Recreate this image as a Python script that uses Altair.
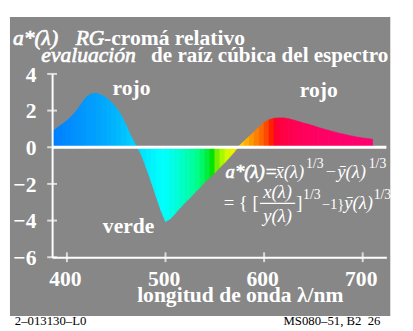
import altair as alt
import pandas as pd

# ---- data ----
wavelengths = [385, 390, 395, 400, 405, 410, 415, 420, 425, 430, 435, 440, 445, 450,
               455, 460, 465, 470, 475, 480, 485, 490, 495, 500, 505, 510, 515, 520,
               525, 530, 535, 540, 545, 550, 555, 560, 565, 570, 575, 580, 585, 590,
               595, 600, 605, 610, 615, 620, 625, 630, 635, 640, 645, 650, 655, 660,
               665, 670, 675, 680, 685, 690, 695, 700, 705, 710]
a_star = [0.85, 1.05, 1.25, 1.45, 1.7, 2.0, 2.4, 2.75, 2.92, 2.95, 2.85, 2.7, 2.45, 2.15,
          1.75, 1.2, 0.6, 0.1, -0.35, -1.05, -1.8, -2.6, -3.4, -4.05, -3.9, -3.6, -3.3, -3.0,
          -2.75, -2.45, -2.2, -1.9, -1.65, -1.4, -1.1, -0.85, -0.55, -0.25, 0.1, 0.35, 0.6, 0.85,
          1.1, 1.35, 1.5, 1.58, 1.6, 1.6, 1.55, 1.48, 1.4, 1.32, 1.25, 1.17, 1.08, 1.0,
          0.93, 0.85, 0.78, 0.72, 0.66, 0.6, 0.55, 0.51, 0.47, 0.44]
strip_colors = ["#0080ff", "#0084ff", "#0088ff", "#008cff", "#0090ff", "#0094ff", "#0098ff",
                "#009cff", "#00a0ff", "#00a4ff", "#00a8ff", "#00aeff", "#00b4ff", "#00baff",
                "#00c2ff", "#00caff", "#00d2ff", "#00dcff", "#00e6ff", "#00eeff", "#00f6ff",
                "#00fcff", "#00ffff", "#00fff4", "#00ffe6", "#00ffd6", "#00ffc6", "#00ffb4",
                "#00ffa0", "#00ff88", "#00f868", "#00ee40", "#00e400", "#70f000", "#a8f800",
                "#d0fc00", "#f0f000", "#ffe000", "#ffc800", "#ffb000", "#ff9800", "#ff8000",
                "#ff6800", "#ff4800", "#ff2000", "#ff0030", "#ff0040", "#ff0048", "#ff004e",
                "#ff0054", "#ff0058", "#ff005c", "#ff0060", "#ff0062", "#ff0064", "#ff0066",
                "#ff0068", "#ff006a", "#ff006c", "#ff006c", "#ff006e", "#ff006e", "#ff0070",
                "#ff0070", "#ff0070"]
x_ticks = [400, 500, 600, 700]
y_ticks = [-6, -4, -2, 0, 2, 4]
y_tick_labels = ["−6", "−4", "−2", "0", "2", "4"]

# ---- layout ----
F = "Liberation Serif"
GRAY = "#878787"
L, T = 45, 64          # plot origin in page coords = (8+L, 8+T)
W, H = 341, 187
OX, OY = 8 + L, 8 + T
X_DOM = [385, 724]
Y_DOM = [-6, 4]

rows = []
for i in range(len(wavelengths) - 1):
    for j in (i, i + 1):
        rows.append({"lam": wavelengths[j], "val": a_star[j], "sid": i, "col": strip_colors[i]})
strips = pd.DataFrame(rows)

xs = alt.Scale(domain=X_DOM, nice=False, zero=False)
ys = alt.Scale(domain=Y_DOM, nice=False, zero=False)

x_axis = alt.Axis(values=x_ticks, labelPadding=12, title=None, grid=False, ticks=False,
                  labelFont=F, labelFontWeight="bold", labelFontSize=22, labelColor="white",
                  domainColor="white", domainWidth=2, zindex=1, labelFlush=False,
                  labelOverlap=False, labelOffset=-2)
y_axis = alt.Axis(values=y_ticks, labels=False, title=None, grid=False, ticks=False,
                  domainColor="white", domainWidth=2, zindex=1)

one = pd.DataFrame({"k": [0]})

bg = alt.Chart(one).mark_rect(color=GRAY).encode(
    x=alt.value(10 - OX), x2=alt.value(398 - OX),
    y=alt.value(14 - OY), y2=alt.value(319 - OY))

area = alt.Chart(strips).mark_area(interpolate="linear", strokeWidth=0.6).encode(
    x=alt.X("lam:Q", scale=xs, axis=x_axis),
    y=alt.Y("val:Q", scale=ys, axis=y_axis),
    y2=alt.datum(0),
    color=alt.Color("col:N", scale=None),
    stroke=alt.Stroke("col:N", scale=None),
    detail="sid:N",
)

zero_line = alt.Chart(one).mark_rule(color="white", strokeWidth=3).encode(
    y=alt.datum(0, scale=ys) if False else alt.Y("k:Q", scale=ys, axis=y_axis))

ytk_df = pd.DataFrame({"lam": [X_DOM[0]] * len(y_ticks), "val": y_ticks, "lab": y_tick_labels})
ytk = alt.Chart(ytk_df).mark_tick(
    orient="horizontal", size=10, thickness=2, color="white").encode(
    x=alt.X("lam:Q", scale=xs, axis=x_axis), y=alt.Y("val:Q", scale=ys, axis=y_axis))
ylab = alt.Chart(ytk_df).mark_text(
    align="right", baseline="middle", font=F, fontSize=22, fontWeight="bold",
    color="white", dy=1).encode(
    x=alt.value(37 - OX), y=alt.Y("val:Q", scale=ys, axis=y_axis), text="lab:N")
xtk = alt.Chart(pd.DataFrame({"lam": x_ticks, "val": [Y_DOM[0]] * len(x_ticks)})).mark_tick(
    orient="vertical", size=10, thickness=2, color="white").encode(
    x=alt.X("lam:Q", scale=xs, axis=x_axis), y=alt.Y("val:Q", scale=ys, axis=y_axis))


def txt(s, x, y, size=22, weight="bold", style="normal", align="left", color="white"):
    kw = {}
    if style == "italic" and weight == "bold":
        weight = "normal"
        kw = dict(stroke=color, strokeWidth=0.7)
    return alt.Chart(one).mark_text(
        text=s, align=align, baseline="alphabetic", font=F, fontSize=size,
        fontWeight=weight, fontStyle=style, color=color, **kw).encode(
        x=alt.value(x - OX), y=alt.value(y - OY))


texts = [
    txt("a*(λ)", 13, 42, 22, "bold", "italic"),
    txt("RG", 77, 42, 22, "bold", "italic"),
    txt("-cromá relativo", 106, 42, 22),
    txt("evaluación", 42, 60, 22, "bold", "italic"),
    txt("de raíz cúbica del espectro", 154, 60, 21.5),
    txt("rojo", 134, 94, 22, align="center"),
    txt("rojo", 325, 96, 22, align="center"),
    txt("verde", 131, 234, 22, align="center"),
    txt("longitud de onda λ/nm", 245, 305, 22, align="center"),
    # formula line 1
    txt("a*(λ)=", 230, 178, 19, "bold", "italic"),
    txt("x\u0304(λ)", 281, 178, 19, "normal", "italic"),
    txt("1/3", 312, 168, 14, "normal"),
    txt("−y\u0304(λ)", 331, 178, 19, "normal", "italic"),
    txt("1/3", 376, 168, 14, "normal"),
    # formula line 2
    txt("= { [", 228, 210, 19, "normal"),
    txt("x(λ)", 283, 199, 19, "normal", "italic", "center"),
    txt("y(λ)", 283, 223, 19, "normal", "italic", "center"),
    txt("]", 302, 210, 19, "normal"),
    txt("1/3", 309, 200, 14, "normal"),
    txt("−1}", 328, 210, 15, "normal"),
    txt("y\u0304(λ)", 351, 210, 19, "normal", "italic"),
    txt("1/3", 381, 200, 14, "normal"),
    # footer
    txt("2–013130–L0", 15, 328, 13, "normal", color="black"),
    txt("MS080–51, B2\u00a0\u00a026", 388, 328, 13, "normal", align="right", color="black"),
]

frac_bar = alt.Chart(one).mark_rule(color="white", strokeWidth=1.2).encode(
    x=alt.value(265 - OX), x2=alt.value(301 - OX), y=alt.value(204 - OY))

chart = alt.layer(bg, area, zero_line, ytk, xtk, ylab, frac_bar, *texts).properties(
    width=W, height=H,
    autosize=alt.AutoSizeParams(type="none"),
    padding={"left": L, "top": T, "right": 405 - L - W, "bottom": 323 - T - H},
    background="white",
).configure_view(stroke=None)

chart.save("out.html", embed_options={"renderer": "svg", "actions": False})
